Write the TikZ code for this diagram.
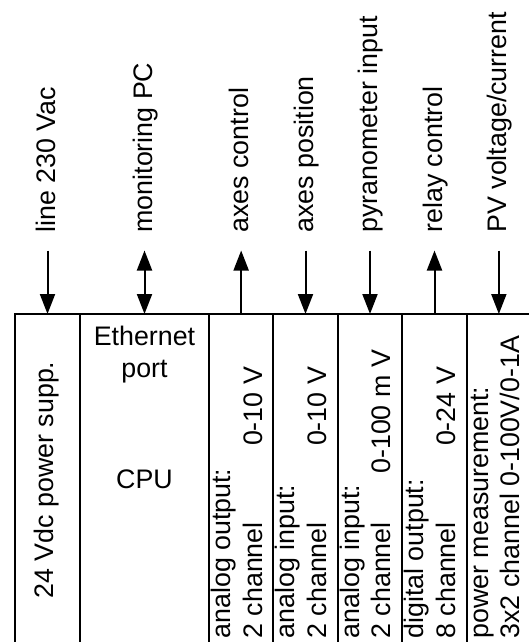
\documentclass[tikz,border=0pt]{standalone}
\usepackage{fontspec}
\setmainfont{Liberation Sans}
\usetikzlibrary{arrows.meta,calc}
\begin{document}
\begin{tikzpicture}[x=0.5pt,y=-0.5pt,
  every node/.style={inner sep=0pt,outer sep=0pt,font=\fontsize{13.4}{16}\selectfont},
  colbox/.style={draw,line width=1pt,minimum height=173pt,anchor=north},
  toplabel/.style={rotate=90,anchor=base west},
  inlabel/.style={rotate=90,anchor=base west},
  valabel/.style={rotate=90,anchor=base east},
  sig/.style={line width=1pt},
  tip/.style={Triangle[length=10pt,width=7.5pt]}]
\useasboundingbox (0,0) rectangle (529,642);
\clip (0,0) rectangle (529,642);
% columns of the controller
\node[colbox,minimum width=32.5pt] (c1) at (47.5,314) {};
\node[colbox,minimum width=64.5pt] (c2) at (144.5,314) {};
\node[colbox,minimum width=32.15pt] (c3) at (241.15,314) {};
\node[colbox,minimum width=32.2pt] (c4) at (305.5,314) {};
\node[colbox,minimum width=32.3pt] (c5) at (370,314) {};
\node[colbox,minimum width=32.2pt] (c6) at (434.5,314) {};
\node[colbox,minimum width=32.15pt] (c7) at (498.85,314) {};
% column texts
\node[rotate=90,anchor=base] (ps) at (53.5,480) {24 Vdc power supp.};
\node[anchor=base] (eth1) at (144.5,345) {Ethernet};
\node[anchor=base] (eth2) at (144.5,377.3) {port};
\node[anchor=base] (cpu) at (144.5,488.3) {CPU};
\node[inlabel] (ao1) at (230.5,638.5) {analog output:};
\node[inlabel] (ao2) at (262,638.5) {2 channel};
\node[valabel] (ao3) at (262,367) {0-10 V};
\node[inlabel] (ai1) at (294.8,638.5) {analog input:};
\node[inlabel] (ai2) at (326.3,638.5) {2 channel};
\node[valabel] (ai3) at (326.3,367) {0-10 V};
\node[inlabel] (pi1) at (359.2,638.5) {analog input:};
\node[inlabel] (pi2) at (390.7,638.5) {2 channel};
\node[valabel] (pi3) at (390.7,350) {0-100 m V};
\node[inlabel] (do1) at (423.8,638.5) {digital output:};
\node[inlabel] (do2) at (455.3,638.5) {8 channel};
\node[valabel] (do3) at (455.3,367) {0-24 V};
\node[inlabel] (pm1) at (488.2,638.5) {power measurement:};
\node[inlabel] (pm2) at (519.7,638.5) {3x2 channel 0-100V/0-1A};
% top labels
\node[toplabel] (l1) at (55,232.5) {line 230 Vac};
\node[toplabel] (l2) at (152,232.5) {monitoring PC};
\node[toplabel] (l3) at (248,232.5) {axes control};
\node[toplabel] (l4) at (313,232.5) {axes position};
\node[toplabel] (l5) at (377.5,232.5) {pyranometer input};
\node[toplabel] (l6) at (442,232.5) {relay control};
\node[toplabel] (l7) at (506.5,232.5) {PV voltage/current};
% free ends of the connectors
\foreach \i in {1,...,7} {\coordinate (t\i) at ($(c\i.north)+(0,-63.5)$);}
% connectors
\draw[sig,-{Triangle[length=10pt,width=7.5pt]}] (t1) -- (c1.north);
\draw[sig,{Triangle[length=10pt,width=7.5pt]}-{Triangle[length=10pt,width=7.5pt]}] (t2) -- (c2.north);
\draw[sig,-{Triangle[length=10pt,width=7.5pt]}] (c3.north) -- (t3);
\draw[sig,-{Triangle[length=10pt,width=7.5pt]}] (t4) -- (c4.north);
\draw[sig,-{Triangle[length=10pt,width=7.5pt]}] (t5) -- (c5.north);
\draw[sig,-{Triangle[length=10pt,width=7.5pt]}] (c6.north) -- (t6);
\draw[sig,-{Triangle[length=10pt,width=7.5pt]}] (t7) -- (c7.north);
\end{tikzpicture}
\end{document}
